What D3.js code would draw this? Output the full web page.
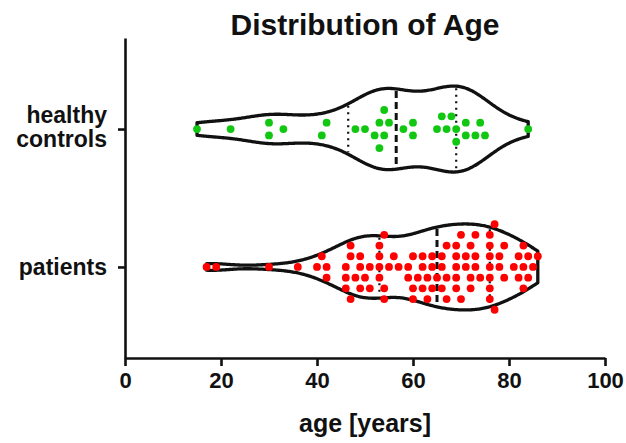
<!DOCTYPE html>
<html>
<head>
<meta charset="utf-8">
<script src="https://cdn.jsdelivr.net/npm/d3@7"></script>
<style>
  body { margin: 0; background: #fff; }
  text { font-family: "Liberation Sans", Arial, sans-serif; font-weight: bold; fill: #111; }
</style>
</head>
<body>
<script>
// values
const groups = ["healthy controls", "patients"];
const healthyAges = [15, 22, 30, 30, 33, 41, 42, 48, 50, 52, 53, 53, 54, 54, 55, 58, 60, 60,
  65, 66, 67, 68, 69, 69, 71, 71, 73, 74, 75, 84];
const patientAges = [17, 19, 30, 36, 40, 41, 42, 42, 46, 46, 46, 47, 47, 47, 48, 49, 49, 49, 50,
  51, 51, 53, 53, 53, 53, 54, 54, 54, 55, 56, 57, 59, 59, 60, 60, 60, 61, 62, 62, 62, 63, 63,
  64, 64, 64, 65, 66, 66, 66, 67, 67, 67, 69, 69, 69, 69, 69, 70, 70, 71, 71, 72, 72, 72,
  73, 73, 73, 74, 76, 76, 76, 76, 76, 76, 76, 77, 77, 78, 78, 79, 79, 81, 82, 82, 83, 83, 83,
  84, 84, 85, 86];
const groupColors = ["#12c712", "#ff0000"];
const xTicks = [0, 20, 40, 60, 80, 100];
const titleText = "Distribution of Age";
const xTitle = "age [years]";

const width = 626, height = 443;

const svg = d3.select("body").append("svg")
    .attr("width", width)
    .attr("height", height);

const x = d3.scaleLinear().domain([0, 100]).range([125, 605]);
const y = d3.scalePoint().domain(groups).range([38, 358]).padding(0.66);

// quartiles the way Prism does them, (n+1)p
function quant(sorted, p) {
    const n = sorted.length;
    const h = (n + 1) * p;
    const lo = Math.floor(h);
    if (lo < 1) return sorted[0];
    if (lo >= n) return sorted[n - 1];
    return sorted[lo - 1] + (h - lo) * (sorted[lo] - sorted[lo - 1]);
}

function kde(values, bw) {
    const lo = d3.min(values), hi = d3.max(values);
    const grid = d3.range(lo, hi, 0.25).concat([hi]);
    return grid.map(t => [t, d3.mean(values, v => Math.exp(-0.5 * ((t - v) / bw) ** 2))]);
}

function densityAt(dens, t) {
    const i = d3.bisector(d => d[0]).left(dens, t);
    return dens[Math.min(i, dens.length - 1)][1];
}

// simple beeswarm on fixed rows
function swarm(values, step, dx, dy) {
    const pts = values.slice().sort(d3.ascending).map(v => ({ v, px: x(v), k: 0 }));
    const placed = [];
    for (const p of pts) {
        for (let i = 0; ; i++) {
            const k = i === 0 ? 0 : (i % 2 ? (i + 1) / 2 : -i / 2);
            const ok = placed.every(q => Math.abs(q.px - p.px) >= dx || Math.abs(q.k - k) * step >= dy);
            if (ok) { p.k = k; break; }
        }
        placed.push(p);
    }
    let start = 0;
    for (let i = 1; i <= pts.length; i++) {
        if (i === pts.length || pts[i].px - pts[i - 1].px >= dx) {
            const c = pts.slice(start, i);
            const shift = Math.round((d3.max(c, d => d.k) + d3.min(c, d => d.k)) / 2);
            c.forEach(d => d.k -= shift);
            start = i;
        }
    }
    pts.forEach(d => d.off = d.k * step);
    return pts;
}

const series = [
    { name: groups[0], values: healthyAges, color: groupColors[0], bw: 5.4, step: 6.35 },
    { name: groups[1], values: patientAges, color: groupColors[1], bw: 4.2, step: 10.7 }
];

const maxHalf = 43;

series.forEach(s => {
    const cy = y(s.name);
    const dens = kde(s.values, s.bw);
    const w = d3.scaleLinear().domain([0, d3.max(dens, d => d[1])]).range([0, maxHalf]);
    const g = svg.append("g");

    g.append("path")
        .datum(dens)
        .attr("fill", "#fff")
        .attr("stroke", "#111")
        .attr("stroke-width", 3.3)
        .attr("stroke-linejoin", "round")
        .attr("d", d3.area()
            .x(d => x(d[0]))
            .y0(d => cy - w(d[1]))
            .y1(d => cy + w(d[1]))
            .curve(d3.curveBasis));

    const sorted = s.values.slice().sort(d3.ascending);
    const lines = [
        { v: quant(sorted, 0.25), dash: "2,4.5", sw: 2.2 },
        { v: quant(sorted, 0.5), dash: "7,4", sw: 3 },
        { v: quant(sorted, 0.75), dash: "2,4.5", sw: 2.2 }
    ];
    g.selectAll("line.stat")
        .data(lines)
        .join("line")
        .attr("class", "stat")
        .attr("x1", d => x(d.v))
        .attr("x2", d => x(d.v))
        .attr("y1", d => cy - w(densityAt(dens, d.v)) + 2)
        .attr("y2", d => cy + w(densityAt(dens, d.v)) - 2)
        .attr("stroke", "#111")
        .attr("stroke-width", d => d.sw)
        .attr("stroke-dasharray", d => d.dash);

    g.selectAll("circle")
        .data(swarm(s.values, s.step, 8, 10))
        .join("circle")
        .attr("cx", d => d.px)
        .attr("cy", d => cy - d.off)
        .attr("r", 3.9)
        .attr("fill", s.color);
});

// axes
const xAxis = svg.append("g")
    .attr("transform", `translate(0,${y.range()[1]})`)
    .call(d3.axisBottom(x).tickValues(xTicks).tickSize(8).tickSizeOuter(0).tickPadding(6));

const yAxis = svg.append("g")
    .attr("transform", `translate(${x.range()[0]},0)`)
    .call(d3.axisLeft(y).tickSize(7).tickSizeOuter(0).tickPadding(11));

[xAxis, yAxis].forEach(a => {
    a.select(".domain").attr("stroke", "#111").attr("stroke-width", 2.6);
    a.selectAll(".tick line").attr("stroke", "#111").attr("stroke-width", 2.6);
    a.selectAll("text").attr("fill", "#111").style("font-family", "Liberation Sans, Arial, sans-serif")
        .style("font-weight", "bold");
});
xAxis.selectAll("text").style("font-size", "22px");
yAxis.selectAll("text").style("font-size", "23px")
    .each(function (d) {
        const words = d.split(" ");
        if (words.length < 2) return;
        const t = d3.select(this).text(null);
        words.forEach((wd, i) => {
            t.append("tspan")
                .attr("x", -18)
                .attr("dy", i === 0 ? `${-0.62 + 0.32}em` : "1.08em")
                .text(wd);
        });
    });

svg.append("text")
    .attr("x", (x.range()[0] + x.range()[1]) / 2)
    .attr("y", 35)
    .attr("text-anchor", "middle")
    .style("font-size", "30px")
    .text(titleText);

svg.append("text")
    .attr("x", (x.range()[0] + x.range()[1]) / 2)
    .attr("y", 432)
    .attr("text-anchor", "middle")
    .style("font-size", "25px")
    .text(xTitle);
</script>
</body>
</html>
